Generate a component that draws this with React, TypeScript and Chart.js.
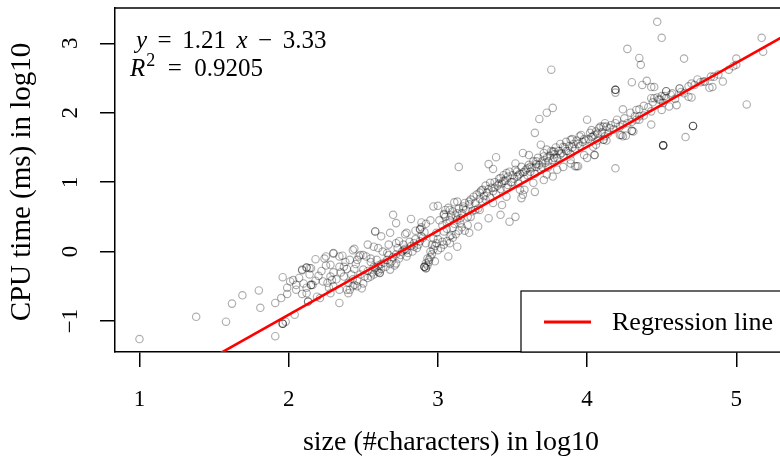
import React, { useEffect, useRef } from "react";
import { Chart, registerables } from "chart.js";

Chart.register(...registerables);

// ---------- data ----------
const X_TICKS = [1, 2, 3, 4, 5];
const Y_TICKS = [-1, 0, 1, 2, 3];
const X_RANGE = [0.836, 5.293];
const Y_RANGE = [-1.447, 3.509];

const SLOPE = 1.21;
const INTERCEPT = -3.33;
const R2 = "0.9205";
const FIT_X = [0.8, 5.6];

const X_TITLE = "size (#characters) in log10";
const Y_TITLE = "CPU time (ms) in log10";
const LEGEND_LABEL = "Regression line";

// small files (x < 2.5)
const smallFiles: [number, number][] = [
  [1.0, -1.26], [1.38, -0.94], [1.58, -1.01], [1.62, -0.75], [1.69, -0.63], [1.8, -0.56],
  [1.81, -0.81], [1.91, -1.22], [1.96, -1.04], [1.96, -1.04], [1.96, -1.04], [1.91, -0.74],
  [1.95, -0.67], [1.96, -0.37], [1.99, -0.61], [1.99, -0.52], [2.01, -0.43], [2.05, -0.48],
  [2.04, -0.91], [2.09, -0.27], [2.12, -0.23], [2.12, -0.23], [2.09, -0.61], [2.12, -0.52],
  [2.15, -0.24], [2.15, -0.48], [2.15, -0.48], [2.13, -0.72], [2.13, -0.72], [1.98, -1.01],
  [2.18, -0.11], [2.21, -0.67], [2.25, -0.07], [2.3, -0.03], [2.34, -0.74], [2.36, -0.06],
  [2.44, 0.04], [2.23, -0.43], [2.28, -0.19], [2.29, -0.41], [2.37, -0.36], [2.39, -0.55],
  [2.4, -0.6], [2.46, -0.5], [2.34, -0.22], [2.41, -0.12], [2.47, -0.07], [2.24, -0.1],
  [2.09, -0.26], [2.14, -0.24], [2.3, -0.02], [2.34, -0.07], [2.43, 0.02], [2.48, -0.05],
  [2.03, -0.41], [2.1, -0.46], [2.16, -0.48], [2.05, -0.55], [2.12, -0.6], [2.3, -0.5],
  [2.28, -0.36], [2.43, -0.5], [2.37, -0.22], [2.46, -0.12], [2.41, -0.55], [2.49, -0.53],
  [2.19, -0.65], [2.28, -0.6], [2.34, -0.55], [2.44, -0.48], [2.25, -0.2], [2.3, -0.3],
  [2.38, -0.15], [2.44, -0.25], [2.4, -0.45], [2.43, -0.4], [2.46, -0.42], [2.48, -0.33],
  [2.2, -0.35], [2.22, -0.28], [2.26, -0.45], [2.32, -0.4], [2.35, -0.3], [2.39, -0.25],
  [2.42, -0.33], [2.45, -0.18], [2.27, -0.52], [2.18, -0.42], [2.07, -0.38], [2.14, -0.33],
];

// medium files (2.5 <= x < 3)
const mediumFiles: [number, number][] = [
  [2.53, 0.1], [2.57, 0.07], [2.58, 0.29], [2.58, 0.29], [2.62, 0.22], [2.68, 0.27],
  [2.7, 0.53], [2.72, 0.41], [2.79, 0.27], [2.82, 0.47], [2.89, 0.42], [2.88, 0.32],
  [2.88, 0.32], [2.97, 0.65], [3.0, 0.66], [2.5, -0.26], [2.57, -0.22], [2.55, -0.36],
  [2.5, -0.46], [2.61, -0.31], [2.61, -0.31], [2.68, -0.26], [2.72, -0.17], [2.79, -0.07],
  [2.77, 0.02], [2.84, 0.07], [2.66, -0.02], [2.72, 0.12], [2.59, -0.12], [2.52, -0.07],
  [2.53, -0.38], [2.6, -0.29], [2.51, -0.36], [2.53, -0.28], [2.56, -0.3], [2.58, -0.24],
  [2.6, -0.2], [2.62, -0.25], [2.64, -0.16], [2.66, -0.12], [2.68, -0.18], [2.7, -0.08],
  [2.72, -0.04], [2.74, -0.1], [2.76, 0.0], [2.78, 0.04], [2.8, -0.02], [2.82, 0.08],
  [2.84, 0.12], [2.86, 0.05], [2.88, 0.15], [2.9, 0.2], [2.92, 0.12], [2.5, -0.05],
  [2.55, -0.1], [2.6, 0.05], [2.63, 0.0], [2.67, 0.1], [2.74, 0.15], [2.78, 0.25],
  [2.85, 0.3], [2.89, 0.35], [2.92, 0.4], [2.95, 0.45],
  [2.91, -0.22], [2.91, -0.22], [2.91, -0.22], [2.92, -0.24], [2.92, -0.24], [2.92, -0.17],
  [2.93, -0.2], [2.93, -0.1], [2.94, -0.15], [2.94, -0.12], [2.95, -0.08], [2.95, 0.0],
  [2.96, -0.04], [2.96, 0.1], [2.97, 0.03], [2.97, 0.19], [2.98, 0.08], [2.98, -0.14],
  [2.99, 0.12], [2.99, 0.27], [3.0, 0.18], [3.0, 0.02],
  [2.55, -0.15], [2.57, -0.33], [2.59, -0.27], [2.62, -0.18], [2.65, -0.22], [2.67, -0.05],
  [2.69, -0.14], [2.71, -0.2], [2.73, 0.05], [2.75, -0.05], [2.77, 0.1], [2.79, 0.02],
  [2.81, 0.14], [2.83, 0.0], [2.85, 0.18], [2.87, 0.1], [2.89, 0.22], [2.91, 0.28],
];

// larger files (3 <= x < 3.5)
const largeFiles: [number, number][] = [
  [3.03, 0.14], [3.04, 0.29], [3.06, 0.41], [3.08, 0.22], [3.1, 0.34], [3.13, 0.46],
  [3.13, 0.07], [3.07, -0.07], [3.04, 0.54], [3.11, 0.71], [3.08, 0.6], [3.14, 1.22],
  [3.34, 1.26], [3.37, 1.19], [3.39, 1.36], [3.42, 0.53], [3.43, 0.67], [3.34, 0.48],
  [3.27, 0.36], [3.21, 0.27], [3.09, 0.24], [3.04, 0.53], [3.07, 0.63], [3.13, 0.72],
  [3.17, 0.65], [3.24, 0.79], [3.3, 0.89], [3.35, 0.99], [3.42, 1.06], [3.46, 1.13],
  [3.15, 0.41], [3.22, 0.5], [3.28, 0.6], [3.37, 0.7], [3.46, 0.79], [3.48, 0.43],
  [3.01, 0.45], [3.03, 0.38], [3.05, 0.5], [3.06, 0.33], [3.08, 0.45], [3.1, 0.58],
  [3.11, 0.4], [3.12, 0.52], [3.14, 0.62], [3.15, 0.48], [3.16, 0.55], [3.18, 0.7],
  [3.19, 0.6], [3.2, 0.5], [3.21, 0.68], [3.22, 0.75], [3.23, 0.58], [3.25, 0.7],
  [3.26, 0.82], [3.27, 0.62], [3.28, 0.76], [3.29, 0.88], [3.3, 0.72], [3.31, 0.8],
  [3.32, 0.95], [3.33, 0.85], [3.35, 0.78], [3.36, 0.92], [3.37, 0.87], [3.38, 1.0],
  [3.39, 0.83], [3.4, 0.95], [3.41, 1.05], [3.42, 0.9], [3.43, 0.98], [3.44, 1.1],
  [3.45, 1.02], [3.46, 0.92], [3.47, 1.08], [3.48, 1.15], [3.49, 1.0], [3.02, 0.05],
  [3.04, 0.1], [3.06, 0.15], [3.08, 0.12], [3.1, 0.2], [3.12, 0.25], [3.14, 0.3],
  [3.16, 0.35], [3.18, 0.3], [3.2, 0.38],
  [3.05, 0.6], [3.09, 0.52], [3.13, 0.55], [3.17, 0.62], [3.21, 0.72], [3.25, 0.6],
  [3.28, 0.85], [3.32, 0.75], [3.34, 0.9], [3.38, 0.92], [3.41, 0.98], [3.44, 1.02],
  [3.47, 0.96],
];

// very large files (3.5 <= x < 4.15)
const veryLargeFiles: [number, number][] = [
  [3.52, 1.27], [3.57, 1.42], [3.61, 1.39], [3.65, 0.86], [3.56, 0.77], [3.57, 0.82],
  [3.52, 0.5], [3.5, 1.1], [3.51, 1.05], [3.52, 1.18], [3.53, 1.08], [3.54, 0.98],
  [3.55, 1.12], [3.56, 1.22], [3.57, 1.14], [3.58, 1.05], [3.59, 1.18], [3.53, 1.15],
  [3.6, 1.2], [3.55, 0.89], [3.64, 0.99], [3.73, 1.11], [3.8, 1.18], [3.89, 1.27],
  [3.98, 1.39], [4.04, 1.51], [4.11, 1.61], [3.6, 1.1], [3.61, 1.25], [3.62, 1.15],
  [3.63, 1.2], [3.64, 1.3], [3.65, 1.12], [3.66, 1.22], [3.67, 1.35], [3.68, 1.25],
  [3.69, 1.18], [3.7, 1.3], [3.71, 1.42], [3.72, 1.28], [3.73, 1.35], [3.74, 1.22],
  [3.75, 1.38], [3.76, 1.45], [3.77, 1.32], [3.78, 1.4], [3.79, 1.5], [3.66, 1.3],
  [3.71, 1.37], [3.77, 1.44], [3.84, 1.51], [3.89, 1.61], [3.95, 1.66], [4.02, 1.71],
  [4.09, 1.8], [3.8, 1.35], [3.81, 1.45], [3.82, 1.55], [3.83, 1.42], [3.84, 1.38],
  [3.85, 1.5], [3.86, 1.58], [3.87, 1.45], [3.88, 1.52], [3.89, 1.4], [3.9, 1.62],
  [3.91, 1.55], [3.92, 1.48], [3.93, 1.6], [3.95, 1.52], [3.96, 1.68], [3.97, 1.58],
  [3.98, 1.62], [3.65, 1.71], [3.68, 1.91], [3.73, 2.0], [3.77, 2.07], [3.76, 2.62],
  [4.0, 1.9], [3.69, 1.54], [3.73, 1.47], [3.78, 1.44], [3.92, 1.23], [3.94, 1.23],
  [4.05, 1.39], [4.0, 1.35], [4.06, 1.54], [4.12, 1.66], [4.13, 1.8], [3.71, 1.03],
  [3.77, 1.08], [3.84, 1.22], [3.89, 1.32], [3.58, 0.89], [3.93, 1.23],
  [3.5, 1.0], [3.54, 1.1], [3.58, 1.15], [3.62, 1.22], [3.66, 1.26], [3.7, 1.22],
  [3.74, 1.3], [3.78, 1.35], [3.82, 1.4], [3.86, 1.45], [3.9, 1.5], [3.94, 1.55],
  [3.99, 1.6], [4.03, 1.65], [4.07, 1.7],
];

// huge files (x >= 4)
const hugeFiles: [number, number][] = [
  [4.47, 3.31], [4.5, 3.08], [4.27, 2.92], [4.35, 2.79], [4.36, 2.69], [4.65, 2.78],
  [5.17, 3.08], [5.18, 2.88], [5.07, 2.12], [4.51, 1.53], [4.51, 1.53], [4.51, 1.53],
  [4.51, 1.53], [4.71, 1.81], [4.71, 1.81], [4.71, 1.81], [4.66, 1.65], [4.43, 1.83],
  [4.3, 2.44], [4.37, 2.4], [4.4, 2.46], [4.43, 2.37], [4.45, 2.37], [4.19, 2.33],
  [4.19, 2.33], [4.19, 2.33], [4.19, 2.29], [4.91, 2.45], [4.82, 2.36], [5.0, 2.78],
  [4.98, 2.67], [5.0, 2.69], [4.79, 2.45], [4.74, 2.48], [4.7, 2.42], [4.62, 2.35],
  [4.53, 2.31], [4.56, 2.26], [4.49, 2.19], [4.43, 2.21], [4.7, 2.22], [4.6, 2.11],
  [4.55, 2.09], [4.5, 2.04], [4.43, 2.02], [4.38, 1.96], [4.33, 2.04], [4.24, 2.05],
  [4.35, 1.9], [4.3, 1.87], [4.24, 1.83], [4.19, 1.85], [4.15, 1.78], [4.11, 1.8],
  [4.06, 1.73], [4.04, 1.66], [4.11, 1.61], [4.22, 1.68], [4.24, 1.66], [4.31, 1.73],
  [4.51, 2.14], [4.59, 2.2], [4.05, 1.39], [4.19, 1.2], [4.13, 1.6], [4.3, 1.74],
  [4.01, 1.62], [4.03, 1.75], [4.05, 1.68], [4.07, 1.6], [4.08, 1.78], [4.1, 1.72],
  [4.12, 1.85], [4.14, 1.7], [4.16, 1.82], [4.18, 1.76], [4.2, 1.9], [4.22, 1.8],
  [4.25, 1.92], [4.27, 1.85], [4.29, 2.0], [4.32, 1.95], [4.35, 2.05], [4.38, 2.1],
  [4.41, 2.08], [4.44, 2.15], [4.47, 2.22], [4.52, 2.24], [4.57, 2.28], [4.63, 2.3],
  [4.68, 2.38], [4.72, 2.4], [4.76, 2.44], [4.85, 2.52], [4.88, 2.55], [4.95, 2.62],
  [4.83, 2.52], [4.84, 2.37], [4.78, 2.45], [4.53, 2.31], [4.5, 2.24], [4.53, 2.21],
  [4.62, 2.35], [4.65, 2.28], [4.68, 2.23], [4.26, 1.67], [4.23, 1.68], [4.3, 1.74],
  [4.33, 1.9], [4.35, 1.95], [4.45, 2.21], [4.48, 2.19],
];

// ---------- styling ----------
const FONT = '"Liberation Serif", "Times New Roman", serif';

function fmtTick(v: number) {
  return v < 0 ? "\u2212" + Math.abs(v) : String(v);
}

const decorPlugin = {
  id: "decor",
  afterDraw(chart: any) {
    const { ctx, chartArea: ca, scales } = chart;
    const xs = scales.x;
    const ys = scales.y;
    ctx.save();
    // top border of the plot box
    ctx.strokeStyle = "#000";
    ctx.lineWidth = 1.5;
    ctx.beginPath();
    ctx.moveTo(ca.left, ca.top);
    ctx.lineTo(ca.right + 10, ca.top);
    ctx.stroke();

    ctx.fillStyle = "#000";
    // x tick labels
    ctx.font = `23px ${FONT}`;
    ctx.textAlign = "center";
    ctx.textBaseline = "middle";
    X_TICKS.forEach((v) => {
      ctx.fillText(fmtTick(v), xs.getPixelForValue(v), ca.bottom + 48);
    });
    // y tick labels (rotated like R)
    Y_TICKS.forEach((v) => {
      ctx.save();
      ctx.translate(ca.left - 44, ys.getPixelForValue(v));
      ctx.rotate(-Math.PI / 2);
      ctx.fillText(fmtTick(v), 0, 0);
      ctx.restore();
    });
    // axis titles
    ctx.font = `28px ${FONT}`;
    ctx.fillText(X_TITLE, 451, ca.bottom + 91);
    ctx.save();
    ctx.font = `29px ${FONT}`;
    ctx.translate(ca.left - 93, 182);
    ctx.rotate(-Math.PI / 2);
    ctx.fillText(Y_TITLE, 0, 0);
    ctx.restore();

    // regression equation
    const size = 25;
    const gap = 0.42 * size;
    ctx.textAlign = "left";
    ctx.textBaseline = "alphabetic";
    const line1: [string, boolean][] = [
      ["y", true], ["=", false], [SLOPE.toFixed(2), false], ["x", true],
      ["\u2212", false], [Math.abs(INTERCEPT).toFixed(2), false],
    ];
    let cx = ca.left + 21;
    const b1 = ca.top + 40;
    line1.forEach(([t, it]) => {
      ctx.font = `${it ? "italic " : ""}${size}px ${FONT}`;
      ctx.fillText(t, cx, b1);
      cx += ctx.measureText(t).width + gap;
    });
    cx = ca.left + 15;
    const b2 = ca.top + 68;
    ctx.font = `italic ${size}px ${FONT}`;
    ctx.fillText("R", cx, b2);
    cx += ctx.measureText("R").width + 1;
    ctx.font = `${Math.round(size * 0.7)}px ${FONT}`;
    ctx.fillText("2", cx, b2 - 10);
    cx += ctx.measureText("2").width + gap + 2;
    ctx.font = `${size}px ${FONT}`;
    ctx.fillText("=", cx, b2);
    cx += ctx.measureText("=").width + gap + 2;
    ctx.fillText(R2, cx, b2);

    // legend box (bottom right)
    const lx = ca.right - 259;
    const ly = ca.bottom - 61;
    ctx.fillStyle = "#fff";
    ctx.fillRect(lx, ly, 300, 61);
    ctx.strokeStyle = "#000";
    ctx.lineWidth = 1.2;
    ctx.strokeRect(lx, ly, 300, 61);
    ctx.strokeStyle = "#ff0000";
    ctx.lineWidth = 3;
    ctx.beginPath();
    ctx.moveTo(lx + 23, ly + 31);
    ctx.lineTo(lx + 70, ly + 31);
    ctx.stroke();
    ctx.fillStyle = "#000";
    ctx.font = `26px ${FONT}`;
    ctx.textBaseline = "middle";
    ctx.fillText(LEGEND_LABEL, lx + 91, ly + 32);
    ctx.restore();
  },
};

export default function App() {
  const canvasRef = useRef<HTMLCanvasElement | null>(null);

  useEffect(() => {
    const canvas = canvasRef.current;
    if (!canvas) return;
    const points = [...smallFiles, ...mediumFiles, ...largeFiles, ...veryLargeFiles, ...hugeFiles].map(
      ([x, y]) => ({ x, y })
    );
    const fit = FIT_X.map((x) => ({ x, y: SLOPE * x + INTERCEPT }));

    const axisCommon = {
      type: "linear" as const,
      ticks: { display: false },
      grid: {
        display: true,
        drawOnChartArea: false,
        drawTicks: true,
        tickLength: 15,
        color: "#000",
        lineWidth: 1.5,
      },
      border: { display: true, color: "#000", width: 1.5 },
    };

    const chart = new Chart(canvas, {
      type: "scatter",
      data: {
        datasets: [
          {
            type: "line",
            data: fit,
            borderColor: "#ff0000",
            borderWidth: 2.6,
            pointRadius: 0,
            clip: 0,
            order: 1,
          } as any,
          {
            type: "scatter",
            data: points,
            pointRadius: 3.7,
            pointBorderWidth: 1.15,
            pointBorderColor: "rgba(0,0,0,0.32)",
            pointBackgroundColor: "rgba(0,0,0,0)",
            borderColor: "rgba(0,0,0,0.32)",
            backgroundColor: "rgba(0,0,0,0)",
            order: 2,
          } as any,
        ],
      },
      options: {
        animation: false,
        responsive: false,
        devicePixelRatio: 1,
        layout: { autoPadding: false, padding: { top: 8, right: 0, left: 0, bottom: 0 } },
        plugins: { legend: { display: false }, tooltip: { enabled: false } },
        events: [],
        scales: {
          x: {
            ...axisCommon,
            position: "bottom",
            min: X_RANGE[0],
            max: X_RANGE[1],
            afterBuildTicks: (s: any) => {
              s.ticks = X_TICKS.map((v) => ({ value: v }));
            },
            afterFit: (s: any) => {
              s.height = 107;
            },
          },
          y: {
            ...axisCommon,
            position: "left",
            min: Y_RANGE[0],
            max: Y_RANGE[1],
            afterBuildTicks: (s: any) => {
              s.ticks = Y_TICKS.map((v) => ({ value: v }));
            },
            afterFit: (s: any) => {
              s.width = 115;
            },
          },
        },
      } as any,
      plugins: [decorPlugin],
    });
    return () => chart.destroy();
  }, []);

  return (
    <div style={{ position: "fixed", left: 0, top: 0, width: 780, height: 459, background: "#fff", overflow: "hidden" }}>
      <canvas ref={canvasRef} width={780} height={459} style={{ width: 780, height: 459, display: "block" }} />
    </div>
  );
}
